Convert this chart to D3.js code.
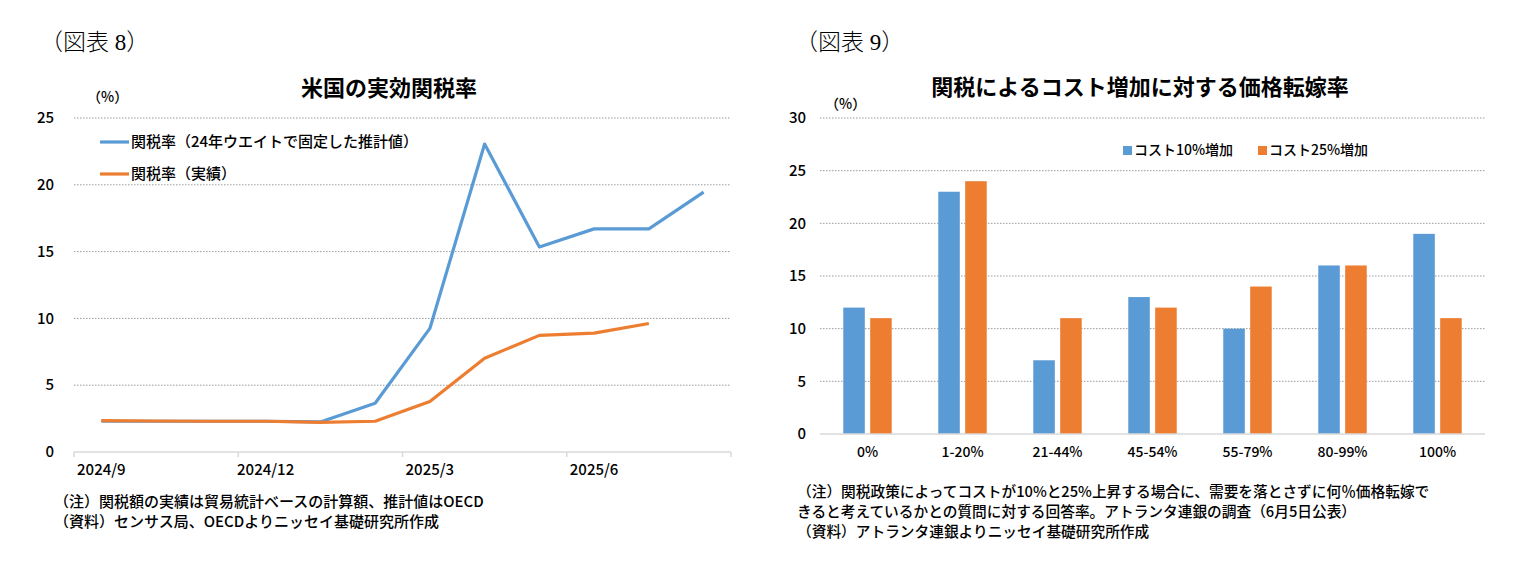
<!DOCTYPE html>
<html>
<head>
  <meta charset="utf-8">
  <title>米国の実効関税率 / 価格転嫁率</title>
  <script src="https://cdn.jsdelivr.net/npm/d3@7"></script>
  <style>
    body { margin: 0; background: #fff; }
    text { font-family: "Noto Sans CJK JP", sans-serif; fill: #000; }
  </style>
</head>
<body>
<script>
    // ---- data: 図表8 (line chart) ----
    var months = ["2024/9","2024/10","2024/11","2024/12","2025/1","2025/2","2025/3","2025/4","2025/5","2025/6","2025/7","2025/8"]
    var monthLabels = ["2024/9","2024/12","2025/3","2025/6"]
    var estimateRate = [2.3, 2.3, 2.3, 2.3, 2.25, 3.65, 9.25, 23.05, 15.35, 16.7, 16.7, 19.45]
    var actualRate = [2.35, 2.32, 2.3, 2.3, 2.22, 2.3, 3.78, 7.02, 8.73, 8.9, 9.62]
    var lineTicks = [0, 5, 10, 15, 20, 25]
    var lineNames = ["関税率（24年ウエイトで固定した推計値）", "関税率（実績）"]

    // ---- data: 図表9 (bar chart) ----
    var bands = ["0%","1-20%","21-44%","45-54%","55-79%","80-99%","100%"]
    var cost10 = [12, 23, 7, 13, 10, 16, 19]
    var cost25 = [11, 24, 11, 12, 14, 16, 11]
    var barTicks = [0, 5, 10, 15, 20, 25, 30]
    var barNames = ["コスト10%増加", "コスト25%増加"]

    var blue = "#5b9bd5", orange = "#ed7d31"

    var svg = d3.select("body").append("svg")
        .attr("width", 1525).attr("height", 575)

    // helper for text
    function label(x, y, s, size, anchor, weight) {
        return svg.append("text").attr("x", x).attr("y", y)
            .attr("dy", "0.35em")
            .attr("font-size", size + "px")
            .attr("text-anchor", anchor || "start")
            .attr("font-weight", weight || 500)
            .text(s)
    }

    // ================= 図表8 =================
    var lx = d3.scaleBand().domain(months).range([74, 731])
    var ly = d3.scaleLinear().domain([0, 25]).range([452, 118])

    label(40, 42, "（図表 8）", 23, "start", 300).style("font-family", "'Liberation Serif', 'Noto Sans CJK JP', serif")
    label(389, 88, "米国の実効関税率", 22, "middle", "bold")
    label(87, 97, "（%）", 14)

    // gridlines
    svg.selectAll("lgrid").data(lineTicks.filter(function(d) { return d > 0 })).enter().append("line")
        .attr("x1", 74).attr("x2", 731)
        .attr("y1", function(d) { return ly(d) }).attr("y2", function(d) { return ly(d) })
        .attr("stroke", "#9a9a9a").attr("stroke-width", 1).attr("stroke-dasharray", "1.5,1.5")

    // axis line + ticks
    svg.append("line").attr("x1", 74).attr("x2", 731).attr("y1", ly(0)).attr("y2", ly(0))
        .attr("stroke", "#d9d9d9").attr("stroke-width", 1.5)
    var tickIdx = [0, 3, 6, 9]
    svg.selectAll("ltick").data(tickIdx).enter().append("line")
        .attr("x1", function(i) { return lx(months[i]) }).attr("x2", function(i) { return lx(months[i]) })
        .attr("y1", ly(0)).attr("y2", ly(0) + 5)
        .attr("stroke", "#d9d9d9").attr("stroke-width", 1.5)
    svg.append("line").attr("x1", 731).attr("x2", 731).attr("y1", ly(0)).attr("y2", ly(0) + 5)
        .attr("stroke", "#d9d9d9").attr("stroke-width", 1.5)

    // y labels
    svg.selectAll("lyl").data(lineTicks).enter().append("text")
        .attr("x", 54).attr("y", function(d) { return ly(d) }).attr("dy", "0.35em")
        .attr("text-anchor", "end").attr("font-size", "15px").attr("font-weight", 500)
        .text(function(d) { return d })

    // x labels
    svg.selectAll("lxl").data(monthLabels).enter().append("text")
        .attr("x", function(d) { return lx(d) + lx.bandwidth() / 2 }).attr("y", 470).attr("dy", "0.35em")
        .attr("text-anchor", "middle").attr("font-size", "15px").attr("font-weight", 500)
        .text(function(d) { return d })

    // lines
    var line = d3.line()
        .x(function(d, i) { return lx(months[i]) + lx.bandwidth() / 2 })
        .y(function(d) { return ly(d) })

    svg.append("path").datum(estimateRate).attr("d", line)
        .attr("fill", "none").attr("stroke", blue).attr("stroke-width", 3.2).attr("stroke-linejoin", "round")
    svg.append("path").datum(actualRate).attr("d", line)
        .attr("fill", "none").attr("stroke", orange).attr("stroke-width", 3.2).attr("stroke-linejoin", "round")

    // legend
    var lcol = [blue, orange]
    lineNames.forEach(function(n, i) {
        var yy = 142 + i * 32
        svg.append("line").attr("x1", 100).attr("x2", 129).attr("y1", yy).attr("y2", yy)
            .attr("stroke", lcol[i]).attr("stroke-width", 3.2)
        label(131, yy, n, 15)
    })

    // notes
    label(54, 502, "（注）関税額の実績は貿易統計ベースの計算額、推計値はOECD", 15)
    label(54, 522, "（資料）センサス局、OECDよりニッセイ基礎研究所作成", 15)

    // ================= 図表9 =================
    var bx = d3.scaleBand().domain(bands).range([820, 1485])
    var bw = bx.bandwidth()
    var bx1 = d3.scaleBand().domain([0, 1]).range([0.245 * bw, 0.755 * bw]).paddingInner(0.2)
    var by = d3.scaleLinear().domain([0, 30]).range([434, 118])

    label(795, 42, "（図表 9）", 23, "start", 300).style("font-family", "'Liberation Serif', 'Noto Sans CJK JP', serif")
    label(1140, 87, "関税によるコスト増加に対する価格転嫁率", 22, "middle", "bold")
    label(825, 104, "（%）", 14)

    svg.selectAll("bgrid").data(barTicks.filter(function(d) { return d > 0 })).enter().append("line")
        .attr("x1", 820).attr("x2", 1485)
        .attr("y1", function(d) { return by(d) }).attr("y2", function(d) { return by(d) })
        .attr("stroke", "#9a9a9a").attr("stroke-width", 1).attr("stroke-dasharray", "1.5,1.5")

    svg.selectAll("byl").data(barTicks).enter().append("text")
        .attr("x", 806).attr("y", function(d) { return by(d) }).attr("dy", "0.35em")
        .attr("text-anchor", "end").attr("font-size", "15px").attr("font-weight", 500)
        .text(function(d) { return d })

    // bars
    var series = [cost10, cost25]
    var bcol = [blue, orange]
    series.forEach(function(vals, s) {
        svg.selectAll("bar" + s).data(vals).enter().append("rect")
            .attr("x", function(d, i) { return bx(bands[i]) + bx1(s) })
            .attr("y", function(d) { return by(d) })
            .attr("width", bx1.bandwidth())
            .attr("height", function(d) { return by(0) - by(d) })
            .attr("fill", bcol[s])
    })

    svg.append("line").attr("x1", 820).attr("x2", 1485).attr("y1", by(0)).attr("y2", by(0))
        .attr("stroke", "#d9d9d9").attr("stroke-width", 1.5)

    svg.selectAll("bxl").data(bands).enter().append("text")
        .attr("x", function(d) { return bx(d) + bw / 2 }).attr("y", 452).attr("dy", "0.35em")
        .attr("text-anchor", "middle").attr("font-size", "14px").attr("font-weight", 500)
        .text(function(d) { return d })

    // legend
    var legX = [1123, 1258]
    barNames.forEach(function(n, i) {
        svg.append("rect").attr("x", legX[i]).attr("y", 146).attr("width", 9).attr("height", 9).attr("fill", bcol[i])
        label(legX[i] + 11, 150, n, 14)
    })

    // notes
    label(797, 492, "（注）関税政策によってコストが10%と25%上昇する場合に、需要を落とさずに何％価格転嫁で", 14.7)
    label(797, 512, "きると考えているかとの質問に対する回答率。アトランタ連銀の調査（6月5日公表）", 14.7)
    label(797, 532, "（資料）アトランタ連銀よりニッセイ基礎研究所作成", 14.7)
</script>
</body>
</html>
